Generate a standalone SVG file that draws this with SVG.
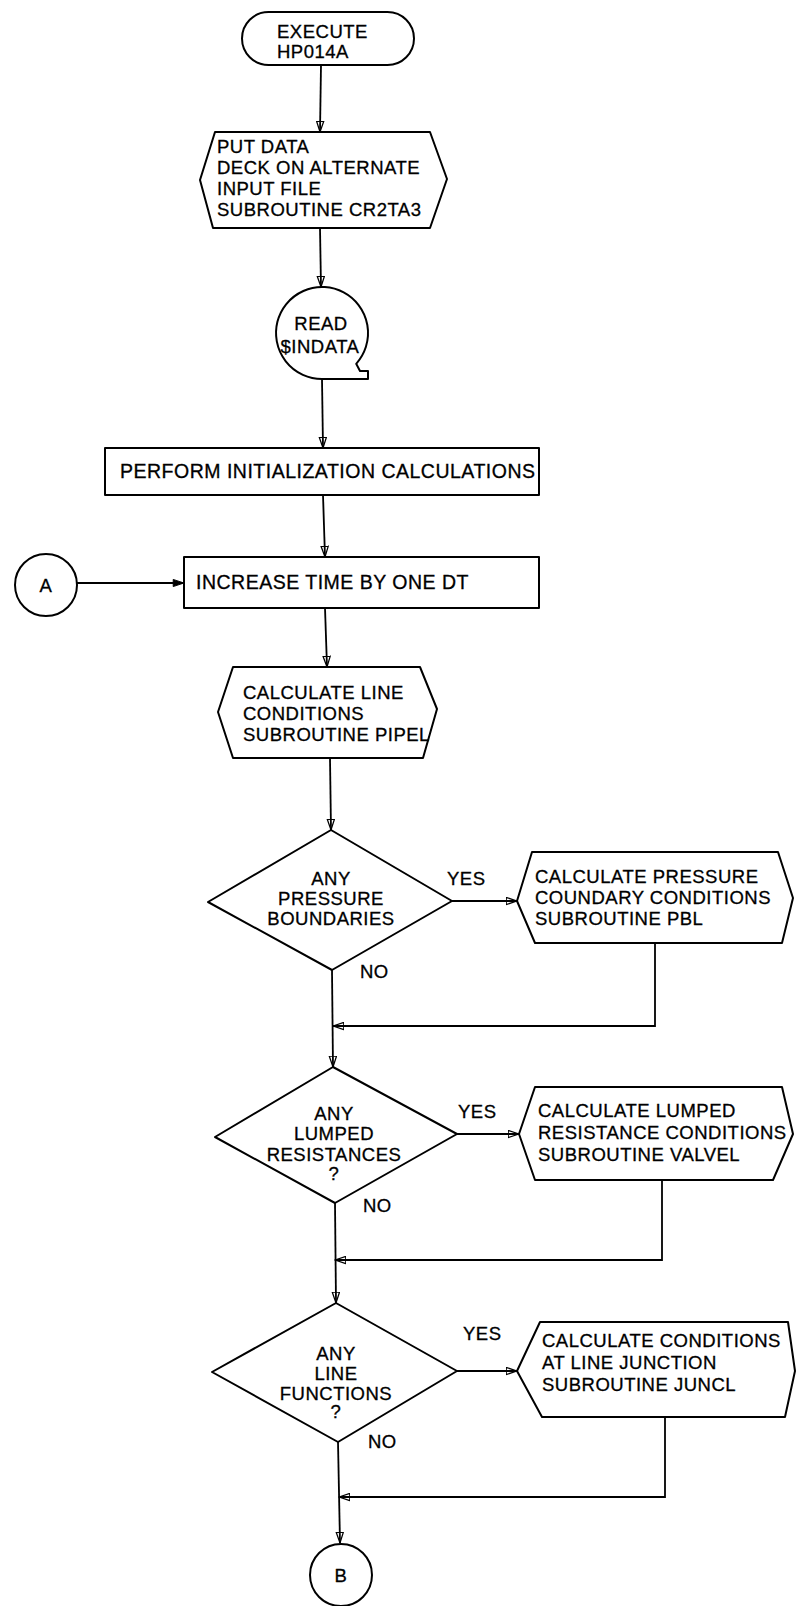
<svg xmlns="http://www.w3.org/2000/svg" width="796" height="1606" viewBox="0 0 796 1606">
<style>
.s{fill:#fff;stroke:#000;stroke-width:2;stroke-linejoin:round}
.c{fill:none;stroke:#000;stroke-width:1.8}
text{font-family:"Liberation Sans",Arial,sans-serif;font-size:18.5px;letter-spacing:0.5px;fill:#000;stroke:#000;stroke-width:0.3px}
.m{text-anchor:middle}
.r{font-size:19.5px}
</style>
<defs>
<marker id="ah" viewBox="0 0 12 10" refX="12" refY="5" markerWidth="12" markerHeight="9" markerUnits="userSpaceOnUse" orient="auto">
<path d="M0,1 L12,5 L0,9 Z" fill="none" stroke="#000" stroke-width="1.4"/>
</marker>
<marker id="af" viewBox="0 0 12 10" refX="12" refY="5" markerWidth="14" markerHeight="9" markerUnits="userSpaceOnUse" orient="auto">
<path d="M0,1 L12,5 L0,9 Z" fill="#000" stroke="#000" stroke-width="1"/>
</marker>
</defs>
<rect width="796" height="1606" fill="#fff"/>
<g id="connectors">
<path class="c" d="M321,65 L320,132" marker-end="url(#ah)"/>
<path class="c" d="M320,228 L321,287" marker-end="url(#ah)"/>
<path class="c" d="M322,379 L323,448" marker-end="url(#ah)"/>
<path class="c" d="M323,495 L325,557" marker-end="url(#ah)"/>
<path class="c" d="M77,583 L184,583" marker-end="url(#af)"/>
<path class="c" d="M325,608 L327,667" marker-end="url(#ah)"/>
<path class="c" d="M330,758 L331,830" marker-end="url(#ah)"/>
<path class="c" d="M452,901 L517,901" marker-end="url(#ah)"/>
<path class="c" d="M332,970 L333,1067" marker-end="url(#ah)"/>
<path class="c" d="M655,943 L655,1026 L333,1026" marker-end="url(#ah)"/>
<path class="c" d="M457,1134 L519,1134" marker-end="url(#ah)"/>
<path class="c" d="M335,1203 L336,1303" marker-end="url(#ah)"/>
<path class="c" d="M662,1180 L662,1260 L335,1260" marker-end="url(#ah)"/>
<path class="c" d="M457,1371 L517,1371" marker-end="url(#ah)"/>
<path class="c" d="M338,1442 L340,1543" marker-end="url(#ah)"/>
<path class="c" d="M665,1417 L665,1497 L339,1497" marker-end="url(#ah)"/>
<text x="447" y="885">YES</text>
<text x="360" y="978">NO</text>
<text x="458" y="1118">YES</text>
<text x="363" y="1212">NO</text>
<text x="463" y="1340">YES</text>
<text x="368" y="1448">NO</text>
</g>
<g id="n-execute">
<rect class="s" x="242" y="12" width="172" height="53" rx="26.5"/>
<text x="277" y="38">EXECUTE</text>
<text x="277" y="58">HP014A</text>
</g>
<g id="n-putdata">
<path class="s" d="M215,132 L430,132 L447,179 L430,228 L213,228 L200,180 Z"/>
<text x="217" y="153">PUT DATA</text>
<text x="217" y="174">DECK ON ALTERNATE</text>
<text x="217" y="195">INPUT FILE</text>
<text x="217" y="216">SUBROUTINE CR2TA3</text>
</g>
<g id="n-read">
<path class="s" d="M356.2,363.8 A46,46 0 1 0 322,379 L368,379 L368,371 L360,371 Z"/>
<text class="m" x="321" y="330">READ</text>
<text class="m" x="320" y="353">$INDATA</text>
</g>
<g id="n-perform">
<rect class="s" x="105" y="448" width="434" height="47"/>
<text class="r" x="120" y="478">PERFORM INITIALIZATION CALCULATIONS</text>
</g>
<g id="n-a">
<circle class="s" cx="46" cy="585" r="31"/>
<text class="m" x="46" y="592">A</text>
</g>
<g id="n-increase">
<rect class="s" x="184" y="557" width="355" height="51"/>
<text class="r" x="196" y="589">INCREASE TIME BY ONE DT</text>
</g>
<g id="n-pipel">
<path class="s" d="M233,667 L420,667 L437,709 L423,758 L233,758 L218,712 Z"/>
<text x="243" y="699">CALCULATE LINE</text>
<text x="243" y="720">CONDITIONS</text>
<text x="243" y="741">SUBROUTINE PIPEL</text>
</g>
<g id="n-pressure">
<path class="s" d="M331,830 L452,901 L332,970 L208,902 Z"/>
<text class="m" x="331" y="885">ANY</text>
<text class="m" x="331" y="905">PRESSURE</text>
<text class="m" x="331" y="925">BOUNDARIES</text>
</g>
<g id="n-pbl">
<path class="s" d="M532,852 L778,852 L793,898 L782,943 L535,943 L517,901 Z"/>
<text x="535" y="883">CALCULATE PRESSURE</text>
<text x="535" y="904">COUNDARY CONDITIONS</text>
<text x="535" y="925">SUBROUTINE PBL</text>
</g>
<g id="n-lumped">
<path class="s" d="M333,1067 L457,1134 L335,1203 L215,1137 Z"/>
<text class="m" x="334" y="1120">ANY</text>
<text class="m" x="334" y="1140">LUMPED</text>
<text class="m" x="334" y="1161">RESISTANCES</text>
<text class="m" x="334" y="1180">?</text>
</g>
<g id="n-valvel">
<path class="s" d="M535,1087 L782,1087 L793,1134 L773,1180 L535,1180 L519,1134 Z"/>
<text x="538" y="1117">CALCULATE LUMPED</text>
<text x="538" y="1139">RESISTANCE CONDITIONS</text>
<text x="538" y="1161">SUBROUTINE VALVEL</text>
</g>
<g id="n-line">
<path class="s" d="M336,1303 L457,1371 L338,1442 L212,1372 Z"/>
<text class="m" x="336" y="1360">ANY</text>
<text class="m" x="336" y="1380">LINE</text>
<text class="m" x="336" y="1400">FUNCTIONS</text>
<text class="m" x="336" y="1418">?</text>
</g>
<g id="n-juncl">
<path class="s" d="M540,1322 L788,1322 L795,1371 L785,1417 L542,1417 L517,1371 Z"/>
<text x="542" y="1347">CALCULATE CONDITIONS</text>
<text x="542" y="1369">AT LINE JUNCTION</text>
<text x="542" y="1391">SUBROUTINE JUNCL</text>
</g>
<g id="n-b">
<circle class="s" cx="341" cy="1575" r="31"/>
<text class="m" x="341" y="1582">B</text>
</g>
</svg>
